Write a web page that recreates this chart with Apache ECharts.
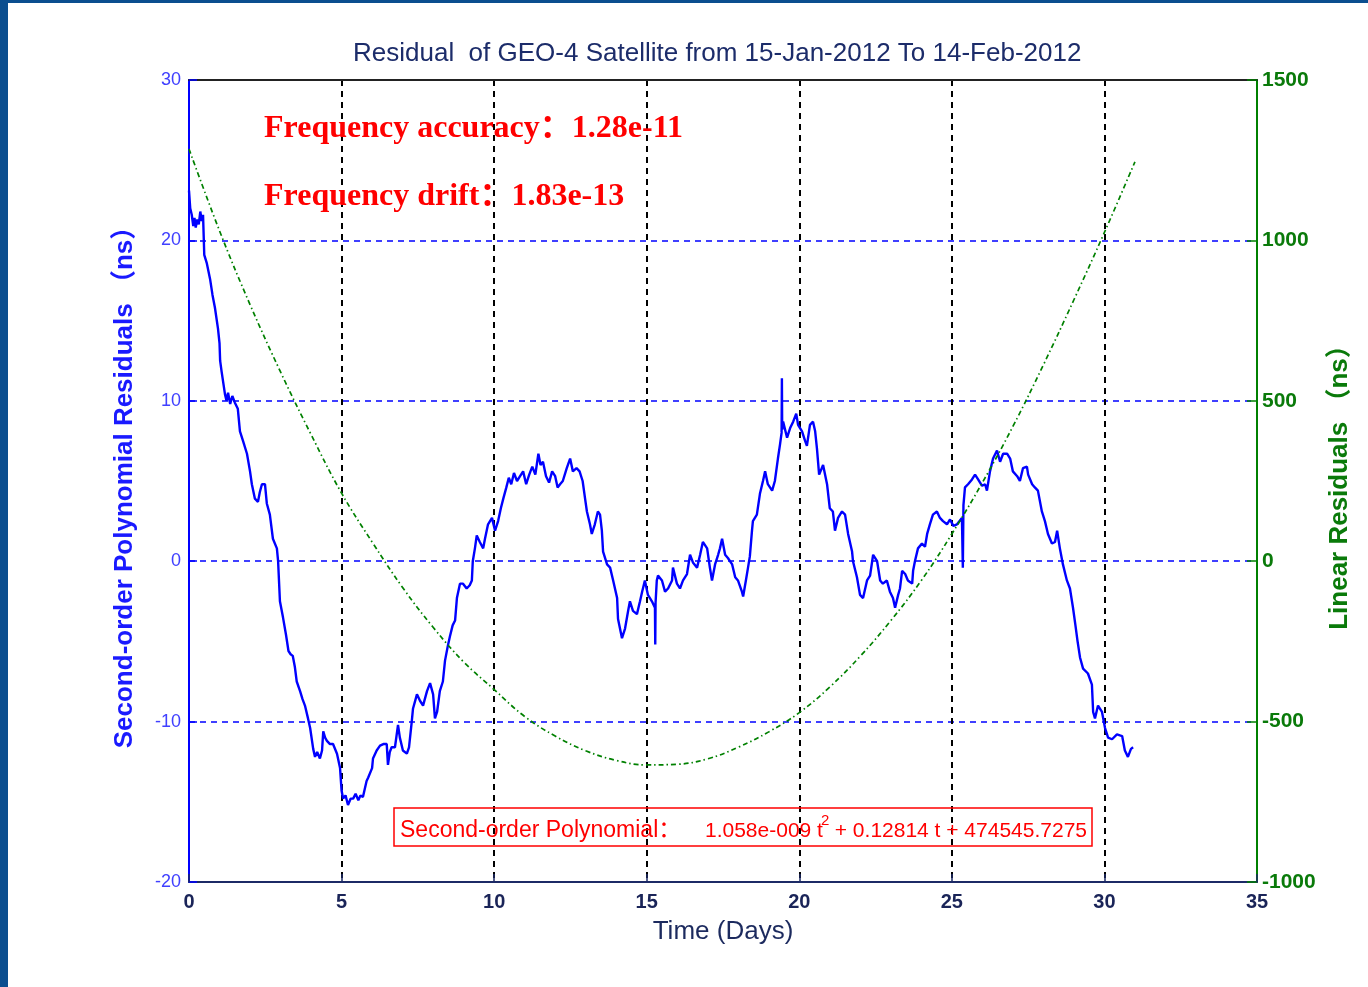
<!DOCTYPE html>
<html>
<head>
<meta charset="utf-8">
<script src="https://cdn.jsdelivr.net/npm/echarts@6/dist/echarts.min.js"></script>
<style>
  html, body { margin: 0; padding: 0; background: #ffffff; }
  #chart { width: 1368px; height: 987px; }
</style>
</head>
<body>
<div id="chart"></div>
<script>
// Time axis ticks (days) and residual axis ticks
const dayTicks = [0, 5, 10, 15, 20, 25, 30, 35];
const polyTicks = [-20, -10, 0, 10, 20, 30];
const linearTicks = [-1000, -500, 0, 500, 1000, 1500];

// Second-order polynomial residuals (ns) against time (days)
const polyDays = [
  0.00, 0.04, 0.09, 0.14, 0.18, 0.22, 0.27, 0.32, 0.37, 0.42, 0.46, 0.50, 0.58, 0.69, 0.77, 0.85, 0.95, 1.00,
  1.02, 1.07, 1.18, 1.23, 1.28, 1.35, 1.42, 1.50, 1.60, 1.67, 1.77, 1.90, 2.00, 2.06, 2.16, 2.26, 2.32, 2.39,
  2.49, 2.55, 2.65, 2.75, 2.88, 2.92, 2.98, 3.08, 3.18, 3.26, 3.33, 3.40, 3.47, 3.53, 3.64, 3.72, 3.80, 3.90,
  3.97, 4.07, 4.13, 4.20, 4.29, 4.36, 4.40, 4.46, 4.52, 4.62, 4.72, 4.85, 4.95, 5.00, 5.05, 5.13, 5.21, 5.30,
  5.38, 5.46, 5.55, 5.62, 5.70, 5.82, 5.87, 6.00, 6.03, 6.15, 6.26, 6.37, 6.48, 6.52, 6.58, 6.64, 6.75, 6.85,
  6.91, 7.01, 7.14, 7.21, 7.30, 7.34, 7.47, 7.57, 7.67, 7.80, 7.90, 8.00, 8.06, 8.13, 8.22, 8.32, 8.39, 8.48,
  8.55, 8.64, 8.72, 8.78, 8.88, 8.98, 9.10, 9.20, 9.27, 9.30, 9.37, 9.43, 9.53, 9.64, 9.70, 9.80, 9.93, 10.03,
  10.13, 10.22, 10.30, 10.40, 10.48, 10.56, 10.65, 10.75, 10.85, 10.95, 11.05, 11.15, 11.25, 11.35, 11.45,
  11.52, 11.60, 11.70, 11.80, 11.90, 12.00, 12.08, 12.16, 12.25, 12.38, 12.49, 12.58, 12.70, 12.80, 12.90,
  12.98, 13.04, 13.14, 13.20, 13.30, 13.40, 13.47, 13.53, 13.57, 13.70, 13.80, 13.90, 14.03, 14.06, 14.19,
  14.29, 14.39, 14.45, 14.55, 14.68, 14.78, 14.85, 14.94, 15.04, 15.17, 15.27, 15.28, 15.29, 15.33, 15.37,
  15.50, 15.60, 15.70, 15.83, 15.86, 15.99, 16.09, 16.19, 16.32, 16.42, 16.52, 16.65, 16.75, 16.84, 16.98,
  17.07, 17.14, 17.24, 17.34, 17.40, 17.47, 17.57, 17.66, 17.80, 17.90, 17.99, 18.12, 18.16, 18.25, 18.32,
  18.38, 18.45, 18.48, 18.61, 18.71, 18.81, 18.88, 18.97, 19.11, 19.20, 19.30, 19.37, 19.42, 19.43, 19.44,
  19.47, 19.60, 19.70, 19.80, 19.90, 19.96, 20.09, 20.19, 20.25, 20.35, 20.45, 20.52, 20.58, 20.65, 20.78,
  20.91, 21.00, 21.10, 21.17, 21.27, 21.40, 21.50, 21.60, 21.73, 21.76, 21.89, 21.99, 22.09, 22.22, 22.32,
  22.42, 22.55, 22.65, 22.74, 22.87, 22.97, 23.07, 23.14, 23.24, 23.30, 23.37, 23.47, 23.56, 23.70, 23.73,
  23.79, 23.89, 24.02, 24.12, 24.19, 24.28, 24.38, 24.51, 24.61, 24.71, 24.84, 24.94, 25.05, 25.17, 25.33,
  25.36, 25.38, 25.43, 25.53, 25.66, 25.76, 25.86, 25.99, 26.09, 26.15, 26.25, 26.35, 26.48, 26.58, 26.68,
  26.81, 26.91, 27.00, 27.14, 27.23, 27.33, 27.46, 27.50, 27.63, 27.72, 27.82, 27.95, 28.05, 28.15, 28.28,
  28.38, 28.45, 28.54, 28.64, 28.77, 28.87, 28.97, 29.05, 29.12, 29.20, 29.30, 29.46, 29.59, 29.63, 29.69,
  29.79, 29.92, 30.02, 30.12, 30.25, 30.41, 30.58, 30.67, 30.77, 30.87, 30.94
];
const polyNs = [
  23.1, 22.0, 21.6, 20.9, 21.4, 20.8, 21.3, 21.0, 21.8, 21.2, 21.6, 19.1, 18.6, 17.6, 16.6, 15.8, 14.5, 13.6,
  12.5, 11.8, 10.4, 10.0, 10.5, 9.8, 10.3, 9.9, 9.5, 8.1, 7.5, 6.7, 5.6, 4.8, 3.9, 3.7, 4.3, 4.8,
  4.8, 3.6, 2.9, 1.4, 0.8, 0.0, -2.5, -3.5, -4.6, -5.6, -5.8, -5.9, -6.6, -7.5, -8.1, -8.6, -9.0, -9.8,
  -10.4, -11.7, -12.2, -11.9, -12.3, -11.8, -10.6, -11.0, -11.2, -11.4, -11.4, -12.0, -12.9, -14.3, -14.8, -14.6, -15.2, -14.8,
  -14.8, -14.5, -14.9, -14.6, -14.7, -13.7, -13.5, -12.9, -12.3, -11.8, -11.5, -11.4, -11.4, -12.7, -11.9, -11.6, -11.6, -10.2,
  -11.0, -11.8, -12.0, -11.6, -10.0, -9.2, -8.3, -8.7, -9.0, -8.1, -7.6, -8.3, -9.8, -9.4, -8.1, -7.5, -6.2, -5.3,
  -4.7, -4.0, -3.7, -2.3, -1.4, -1.4, -1.7, -1.5, -1.2, 0.0, 0.8, 1.6, 1.2, 0.8, 1.4, 2.3, 2.7, 1.9,
  2.5, 3.3, 3.9, 4.6, 5.2, 4.8, 5.5, 5.0, 5.3, 5.6, 4.8, 5.4, 5.9, 5.4, 6.7,
  6.0, 6.2, 5.3, 4.9, 5.6, 5.3, 4.6, 4.8, 5.0, 5.8, 6.4, 5.6, 5.8, 5.6, 5.0,
  3.9, 3.1, 2.3, 1.7, 2.3, 3.1, 2.9, 1.9, 0.6, -0.2, -0.4, -1.2, -2.3, -3.6, -4.8,
  -4.2, -3.1, -2.5, -3.1, -3.3, -2.5, -1.9, -1.2, -2.1, -2.5, -2.9, -5.2, -2.6, -1.2, -0.9,
  -1.2, -1.9, -1.7, -1.2, -0.4, -1.4, -1.7, -1.2, -0.8, 0.4, -0.1, -0.4, 0.4, 1.2, 0.8,
  -0.4, -1.2, -0.2, 0.4, 0.8, 1.4, 0.4, 0.2, -0.2, -1.0, -1.2, -1.9, -2.2, -1.2, -0.4,
  0.3, 1.9, 2.5, 2.9, 4.2, 5.0, 5.6, 4.8, 4.4, 5.0, 6.4, 7.3, 8.0, 11.4, 8.2,
  8.7, 7.7, 8.3, 8.7, 9.2, 8.5, 8.1, 7.5, 7.2, 8.5, 8.7, 8.1, 7.0, 5.4, 6.0,
  4.8, 3.3, 3.1, 1.9, 2.7, 3.1, 2.9, 1.7, 0.6, 0.0, -1.0, -2.1, -2.3, -1.2, -0.9,
  0.4, 0.0, -1.2, -1.4, -1.2, -1.9, -2.3, -2.9, -2.1, -1.7, -0.6, -0.8, -1.2, -1.4, -0.6,
  0.0, 0.8, 1.1, 0.9, 1.7, 2.3, 2.9, 3.1, 2.7, 2.5, 2.3, 2.6, 2.2, 2.3, 2.7,
  -0.4, 3.5, 4.6, 4.8, 5.1, 5.4, 5.1, 4.7, 4.8, 4.4, 5.6, 6.4, 6.9, 6.2, 6.7,
  6.7, 6.4, 5.6, 5.3, 5.0, 5.8, 5.9, 5.4, 4.8, 4.6, 4.4, 3.1, 2.5, 1.7, 1.1,
  1.2, 1.9, 0.8, -0.2, -1.2, -1.7, -2.9, -4.0, -5.0, -6.0, -6.7, -7.0, -7.7, -9.4, -9.8,
  -9.0, -9.4, -10.4, -11.0, -11.1, -10.8, -10.9, -11.8, -12.2, -11.7, -11.6
];

// Linear residuals (ns), one reading per day
const linearDays = [0, 1, 2, 3, 4, 5, 6, 7, 8, 9, 10, 11, 12, 13, 14, 15,
                    16, 17, 18, 19, 20, 21, 22, 23, 24, 25, 26, 27, 28, 29, 30, 31];
const linearNs = [1285, 1030, 800, 590, 395, 212, 60, -82, -206, -314, -400, -484, -545, -591, -621, -635,
                  -633, -616, -580, -532, -472, -392, -296, -185, -60, 85, 245, 420, 612, 815, 1025, 1245];

const SANS = "'Liberation Sans', Arial, 'Noto Sans CJK SC', sans-serif";
const SERIF = "'Liberation Serif', 'Times New Roman', 'Noto Sans CJK SC', serif";
const RED = '#ff0000';

const chart = echarts.init(document.getElementById('chart'), null, { renderer: 'canvas' });

const option = {
  animation: false,
  backgroundColor: '#ffffff',
  title: {
    text: 'Residual  of GEO-4 Satellite from 15-Jan-2012 To 14-Feb-2012',
    left: 348,
    top: 36,
    textStyle: { color: '#1c2c6a', fontSize: 26, fontWeight: 'normal', fontFamily: SANS }
  },
  grid: { left: 189, right: 111, top: 80, bottom: 105, containLabel: false },
  xAxis: [
    {
      type: 'value',
      min: dayTicks[0],
      max: dayTicks[dayTicks.length - 1],
      interval: dayTicks[1] - dayTicks[0],
      position: 'bottom',
      axisLine: { show: true, onZero: false, lineStyle: { color: '#1c2a66', width: 2 } },
      axisTick: { show: true, inside: true, length: 8, lineStyle: { color: '#1c2a66', width: 1.5 } },
      axisLabel: { margin: 10, color: '#1a2458', fontSize: 20, fontWeight: 'bold', fontFamily: SANS },
      splitLine: {
        show: true, showMinLine: false, showMaxLine: false,
        lineStyle: { color: '#000000', type: [6, 5], width: 2 }
      },
      name: 'Time (Days)',
      nameLocation: 'middle',
      nameGap: 37,
      nameTextStyle: { color: '#1c2a5e', fontSize: 26, fontFamily: SANS }
    },
    {
      type: 'value',
      min: dayTicks[0],
      max: dayTicks[dayTicks.length - 1],
      position: 'top',
      axisLine: { show: true, onZero: false, lineStyle: { color: '#222222', width: 2 } },
      axisTick: { show: false },
      axisLabel: { show: false },
      splitLine: { show: false }
    }
  ],
  yAxis: [
    {
      type: 'value',
      min: polyTicks[0],
      max: polyTicks[polyTicks.length - 1],
      interval: polyTicks[1] - polyTicks[0],
      position: 'left',
      axisLine: { show: true, onZero: false, lineStyle: { color: '#0000ff', width: 2 } },
      axisTick: { show: true, inside: true, length: 8, lineStyle: { color: '#0000ff', width: 1.5 } },
      axisLabel: { margin: 8, color: '#4040ff', fontSize: 18, fontFamily: SANS },
      splitLine: {
        show: true, showMinLine: false, showMaxLine: false,
        lineStyle: { color: '#0000ff', type: [6, 5], width: 1.5 }
      },
      name: 'Second-order Polynomial Residuals （ns）',
      nameLocation: 'middle',
      nameRotate: 90,
      nameGap: 51,
      nameTextStyle: { color: '#1a1aff', fontSize: 26, fontWeight: 'bold', fontFamily: SANS }
    },
    {
      type: 'value',
      min: linearTicks[0],
      max: linearTicks[linearTicks.length - 1],
      interval: linearTicks[1] - linearTicks[0],
      position: 'right',
      axisLine: { show: true, onZero: false, lineStyle: { color: '#008000', width: 2 } },
      axisTick: { show: true, inside: true, length: 10, lineStyle: { color: '#008000', width: 1.5 } },
      axisLabel: {
        margin: 5, color: '#0a7a0a', fontSize: 21, fontWeight: 'bold', fontFamily: SANS,
        formatter: (v) => String(v)
      },
      splitLine: { show: false },
      name: 'Linear Residuals （ns）',
      nameLocation: 'middle',
      nameRotate: 90,
      nameGap: 70,
      nameTextStyle: { color: '#0a7a0a', fontSize: 26, fontWeight: 'bold', fontFamily: SANS }
    }
  ],
  series: [
    {
      name: 'Second-order Polynomial Residuals',
      type: 'line',
      xAxisIndex: 0,
      yAxisIndex: 0,
      data: polyDays.map((t, i) => [t, polyNs[i]]),
      showSymbol: false,
      symbol: 'none',
      lineStyle: { color: '#0000ff', width: 2.4 },
      z: 3
    },
    {
      name: 'Linear Residuals',
      type: 'line',
      xAxisIndex: 0,
      yAxisIndex: 1,
      data: linearDays.map((t, i) => [t, linearNs[i]]),
      showSymbol: false,
      symbol: 'none',
      smooth: 0.4,
      lineStyle: { color: '#008000', width: 1.7, type: [5, 3, 1.5, 3] },
      z: 4
    }
  ],
  graphic: [
    // page frame
    { type: 'rect', shape: { x: 0, y: 0, width: 8, height: 987 }, style: { fill: '#0b4e8f' }, z: 10 },
    { type: 'rect', shape: { x: 0, y: 0, width: 1368, height: 3 }, style: { fill: '#0b4e8f' }, z: 10 },
    // frequency statistics
    {
      type: 'text', x: 264, y: 129, z: 10,
      style: {
        text: 'Frequency accuracy：1.28e-11', fill: RED,
        font: 'bold 32px ' + SERIF, textVerticalAlign: 'middle', verticalAlign: 'middle'
      }
    },
    {
      type: 'text', x: 264, y: 197, z: 10,
      style: {
        text: 'Frequency drift：1.83e-13', fill: RED,
        font: 'bold 32px ' + SERIF, textVerticalAlign: 'middle', verticalAlign: 'middle'
      }
    },
    // fitted polynomial box
    {
      type: 'rect', z: 10,
      shape: { x: 394, y: 808, width: 698, height: 38 },
      style: { fill: 'none', stroke: RED, lineWidth: 1.5 }
    },
    {
      type: 'text', x: 400, y: 831, z: 10,
      style: {
        text: 'Second-order Polynomial：', fill: RED,
        font: '23px ' + SANS, textVerticalAlign: 'middle', verticalAlign: 'middle'
      }
    },
    {
      type: 'text', x: 705, y: 831, z: 10,
      style: {
        text: '1.058e-009 t', fill: RED,
        font: '21px ' + SANS, textVerticalAlign: 'middle', verticalAlign: 'middle'
      }
    },
    {
      type: 'text', x: 821, y: 821, z: 10,
      style: {
        text: '2', fill: RED,
        font: '15px ' + SANS, textVerticalAlign: 'middle', verticalAlign: 'middle'
      }
    },
    {
      type: 'text', x: 1087, y: 831, z: 10,
      style: {
        text: '+ 0.12814 t + 474545.7275', fill: RED,
        font: '21px ' + SANS, textAlign: 'right', align: 'right',
        textVerticalAlign: 'middle', verticalAlign: 'middle'
      }
    }
  ]
};

chart.setOption(option);
</script>
</body>
</html>
